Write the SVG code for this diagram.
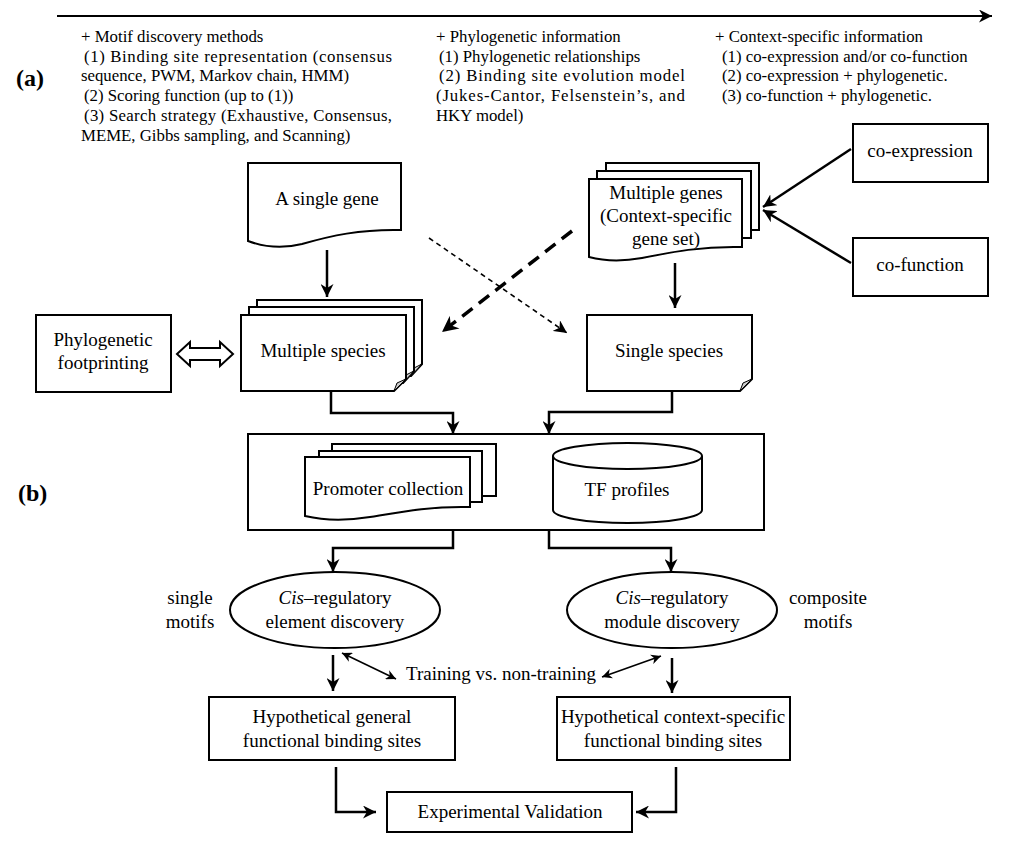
<svg xmlns="http://www.w3.org/2000/svg" width="1024" height="844" viewBox="0 0 1024 844" font-family="'Liberation Serif','DejaVu Serif',serif">
<style>
text{font-family:'Liberation Serif','DejaVu Serif',serif;fill:#000}
.hd{font-size:16.8px}
.n{font-size:19px;text-anchor:middle}
.box{fill:#fff;stroke:#000;stroke-width:2}
.ln{fill:none;stroke:#000;stroke-width:2.5}
.lab{font-size:24px;font-weight:bold}
</style>
<defs>
<marker id="ah" viewBox="0 0 10 10" refX="10" refY="5" markerWidth="13" markerHeight="13" markerUnits="userSpaceOnUse" orient="auto-start-reverse"><path d="M0,0 L10,5 L0,10 L3,5 z" fill="#000"/></marker>
<marker id="ahs" viewBox="0 0 10 10" refX="10" refY="5" markerWidth="10" markerHeight="10" markerUnits="userSpaceOnUse" orient="auto-start-reverse"><path d="M0,0 L10,5 L0,10 L3,5 z" fill="#000"/></marker>
<marker id="ahb" viewBox="0 0 10 10" refX="10" refY="5" markerWidth="16" markerHeight="16" markerUnits="userSpaceOnUse" orient="auto"><path d="M0,0 L10,5 L0,10 L3,5 z" fill="#000"/></marker>
</defs>

<g id="timeline">
<line x1="57" y1="16" x2="992" y2="16" stroke="#000" stroke-width="2" marker-end="url(#ah)"/>
</g>

<g id="col1">
<text x="81" y="42" class="hd">+ Motif discovery methods</text>
<text x="84" y="61.7" class="hd" textLength="308" lengthAdjust="spacing">(1) Binding site representation (consensus</text>
<text x="81" y="81.4" class="hd">sequence, PWM, Markov chain, HMM)</text>
<text x="84" y="101" class="hd">(2) Scoring function (up to (1))</text>
<text x="84" y="120.8" class="hd" textLength="308" lengthAdjust="spacing">(3) Search strategy (Exhaustive, Consensus,</text>
<text x="81" y="140.5" class="hd">MEME, Gibbs sampling, and Scanning)</text>
</g>
<g id="col2">
<text x="436" y="42" class="hd">+ Phylogenetic information</text>
<text x="439" y="61.7" class="hd">(1) Phylogenetic relationships</text>
<text x="439" y="81.4" class="hd" textLength="246" lengthAdjust="spacing">(2) Binding site evolution model</text>
<text x="436" y="101" class="hd" textLength="249" lengthAdjust="spacing">(Jukes-Cantor, Felsenstein’s, and</text>
<text x="436" y="120.8" class="hd">HKY model)</text>
</g>
<g id="col3">
<text x="715" y="42" class="hd">+ Context-specific information</text>
<text x="722" y="61.7" class="hd">(1) co-expression and/or co-function</text>
<text x="722" y="81.4" class="hd">(2) co-expression + phylogenetic.</text>
<text x="722" y="101" class="hd">(3) co-function + phylogenetic.</text>
</g>

<g id="labels">
<text x="16" y="86" class="lab">(a)</text>
<text x="18" y="501" class="lab">(b)</text>
</g>

<g id="connectors">
<line x1="327" y1="250" x2="327" y2="297" class="ln" stroke-width="3" marker-end="url(#ah)"/>
<line x1="675" y1="263" x2="675" y2="308" class="ln" stroke-width="3" marker-end="url(#ah)"/>
<line x1="429" y1="238" x2="567" y2="333" stroke="#000" stroke-width="1.6" stroke-dasharray="5 4" marker-end="url(#ah)"/>
<line x1="572" y1="231" x2="442" y2="332" stroke="#000" stroke-width="3.5" stroke-dasharray="13 8" marker-end="url(#ahb)"/>
<line x1="851" y1="149" x2="763" y2="207" class="ln" stroke-width="2" marker-end="url(#ah)"/>
<line x1="851" y1="263" x2="763" y2="210" class="ln" stroke-width="2" marker-end="url(#ah)"/>
<polyline points="331,392 331,413 453,413 453,434" class="ln" marker-end="url(#ah)"/>
<polyline points="672,392 672,412 549,412 549,434" class="ln" marker-end="url(#ah)"/>
<polyline points="453,530 453,548 333,548 333,572" class="ln" marker-end="url(#ah)"/>
<polyline points="549,530 549,548 671,548 671,572" class="ln" marker-end="url(#ah)"/>
<line x1="333" y1="655" x2="333" y2="691" class="ln" marker-end="url(#ah)"/>
<line x1="672" y1="658" x2="672" y2="693" class="ln" marker-end="url(#ah)"/>
<line x1="342" y1="653" x2="396" y2="679" stroke="#000" stroke-width="1.6" marker-start="url(#ahs)" marker-end="url(#ahs)"/>
<line x1="602" y1="677" x2="661" y2="656" stroke="#000" stroke-width="1.6" marker-start="url(#ahs)" marker-end="url(#ahs)"/>
<polyline points="336,767 336,812 376,812" class="ln" marker-end="url(#ah)"/>
<polyline points="676,767 676,812 636,812" class="ln" marker-end="url(#ah)"/>
<polygon points="177,354 190,342 190,348 220,348 220,342 233,354 220,366 220,360 190,360 190,366" fill="#fff" stroke="#000" stroke-width="2"/>
</g>

<g id="single-gene">
<path d="M248,163 H401 V230 C360,229 330,236 302,244 C282,249 264,247 248,241 Z" class="box"/>
<text x="327" y="205" class="n">A single gene</text>
</g>

<g id="multiple-genes">
<rect x="606" y="163" width="153" height="67" class="box"/>
<rect x="597" y="171" width="154" height="67" class="box"/>
<path d="M589,179 H742 V247 C702,246 672,252 642,258 C620,262 604,261 589,257 Z" class="box"/>
<text x="666" y="199" class="n">Multiple genes</text>
<text x="666" y="222" class="n">(Context-specific</text>
<text x="666" y="245" class="n">gene set)</text>
</g>

<g id="co-expression">
<rect x="853" y="124" width="135" height="58" class="box"/>
<text x="920" y="157" class="n">co-expression</text>
</g>
<g id="co-function">
<rect x="853" y="238" width="135" height="58" class="box"/>
<text x="920" y="271" class="n">co-function</text>
</g>

<g id="phylo-footprinting">
<rect x="36" y="315" width="135" height="77" class="box"/>
<text x="103" y="346" class="n">Phylogenetic</text>
<text x="103" y="369" class="n">footprinting</text>
</g>

<g id="multiple-species">
<path d="M257,300 H422 V364 L411,376 H257 Z" class="box"/>
<path d="M411,376 L422,364 L414,368 Z" fill="#ccc" stroke="#000" stroke-width="1"/>
<path d="M249,307 H414 V371 L403,383 H249 Z" class="box"/>
<path d="M403,383 L414,371 L406,375 Z" fill="#ccc" stroke="#000" stroke-width="1"/>
<path d="M241,315 H406 V379 L394,391 H241 Z" class="box"/>
<path d="M394,391 L406,379 L397,383 Z" fill="#ccc" stroke="#000" stroke-width="1"/>
<text x="323" y="357" class="n">Multiple species</text>
</g>

<g id="single-species">
<path d="M587,315 H752 V379 L740,391 H587 Z" class="box"/>
<path d="M740,391 L752,379 L743,383 Z" fill="#ccc" stroke="#000" stroke-width="1"/>
<text x="669" y="357" class="n">Single species</text>
</g>

<g id="data-container">
<rect x="248" y="434" width="516" height="96" class="box"/>
</g>

<g id="promoter-collection">
<rect x="332" y="444" width="164" height="52" class="box"/>
<rect x="319" y="451" width="163" height="51" class="box"/>
<path d="M305,457 H470 V507 C430,506 400,512 370,517 C345,521 322,520 305,516 Z" class="box"/>
<text x="388" y="495" class="n">Promoter collection</text>
</g>

<g id="tf-profiles">
<path d="M553,456 V510 A74.5,13 0 0 0 702,510 V456" class="box"/>
<ellipse cx="627.5" cy="456" rx="74.5" ry="13" class="box"/>
<text x="627" y="496" class="n">TF profiles</text>
</g>

<g id="element-discovery">
<ellipse cx="335" cy="610" rx="105" ry="38" class="box"/>
<text x="335" y="604" class="n"><tspan font-style="italic">Cis</tspan>–regulatory</text>
<text x="335" y="628" class="n">element discovery</text>
</g>
<g id="module-discovery">
<ellipse cx="672" cy="610" rx="105" ry="38" class="box"/>
<text x="672" y="604" class="n"><tspan font-style="italic">Cis</tspan>–regulatory</text>
<text x="672" y="628" class="n">module discovery</text>
</g>

<g id="side-labels">
<text x="190" y="604" class="n">single</text>
<text x="190" y="628" class="n">motifs</text>
<text x="828" y="604" class="n">composite</text>
<text x="828" y="628" class="n">motifs</text>
<text x="501" y="680" class="n">Training vs. non-training</text>
</g>

<g id="general-sites">
<rect x="209" y="697" width="246" height="63" class="box"/>
<text x="332" y="723" class="n">Hypothetical general</text>
<text x="332" y="747" class="n">functional binding sites</text>
</g>
<g id="context-sites">
<rect x="557" y="697" width="233" height="63" class="box"/>
<text x="673" y="723" class="n">Hypothetical context-specific</text>
<text x="673" y="747" class="n">functional binding sites</text>
</g>

<g id="experimental-validation">
<rect x="387" y="792" width="245" height="40" class="box"/>
<text x="510" y="818" class="n">Experimental Validation</text>
</g>
</svg>
